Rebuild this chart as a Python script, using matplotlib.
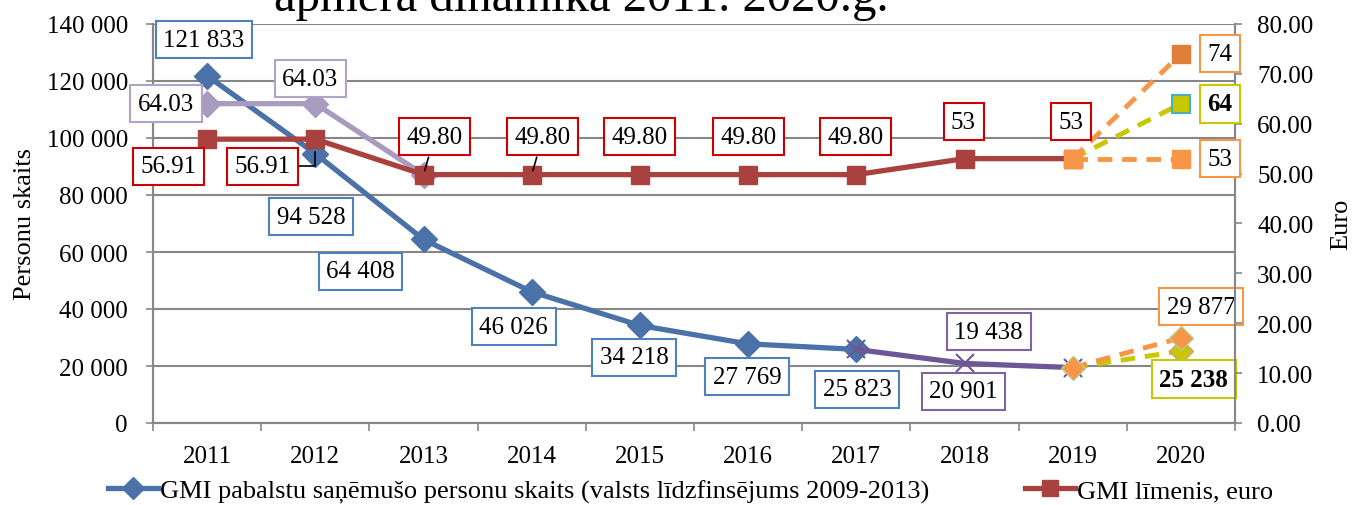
import matplotlib
matplotlib.use('Agg')
import matplotlib.pyplot as plt
from matplotlib.lines import Line2D
from matplotlib.ticker import FuncFormatter

plt.rcParams['font.family'] = ['Liberation Serif', 'DejaVu Serif']

# data
years = ['2011', '2012', '2013', '2014', '2015', '2016', '2017', '2018', '2019', '2020']
persons = [121833, 94528, 64408, 46026, 34218, 27769, 25823]      # 2011-2017
persons_tail = [25823, 20901, 19438]                               # 2017-2019
persons_2020_high = 29877
persons_2020_low = 25238
gmi_old = [64.03, 64.03, 49.80]                                    # 2011-2013
gmi_level = [56.91, 56.91, 49.80, 49.80, 49.80, 49.80, 49.80, 53, 53]  # 2011-2019
gmi_2020 = [74, 64, 53]

BLUE = '#4A72A9'
RED = '#A9413F'
LPURPLE = '#A99BC0'
PURPLE = '#6E5797'
ORANGE = '#F79646'
DORANGE = '#E07F3A'
YELLOW = '#C8C800'

fig = plt.figure(figsize=(13.54, 5.06), dpi=100)
ax = fig.add_axes([153 / 1354, 1 - 424 / 506, 1082 / 1354, 399 / 506])
ax2 = ax.twinx()

x = list(range(len(years)))

# left axis: persons
ax.plot(x[:7], persons, color=BLUE, lw=3.8, marker='D', ms=13, zorder=3)
ax.plot(x[6:9], persons_tail, color=PURPLE, lw=3.8, marker='x', ms=13, mew=1.5, zorder=3)
ax.plot([8, 9], [persons_tail[-1], persons_2020_low], color=YELLOW, lw=3.5, ls=(0, (3, 2)), zorder=3)
ax.plot([9], [persons_2020_low], marker='D', color=YELLOW, mec='#D99694', ms=12, ls='none', zorder=4)
ax.plot([8, 9], [persons_tail[-1], persons_2020_high], color=ORANGE, lw=3.5, ls=(0, (3, 2)), zorder=3)
ax.plot([8, 9], [persons_tail[-1], persons_2020_high], marker='D', color=ORANGE, mec='#B8CC90',
        ms=12, ls='none', zorder=4)

# right axis: euro
ax2.plot(x[:3], gmi_old, color=LPURPLE, lw=3.8, marker='D', ms=13, zorder=3)
ax2.plot(x[:9], gmi_level, color=RED, lw=3.8, marker='s', ms=13, zorder=3)
ax2.plot([8, 9], [gmi_level[-1], gmi_2020[0]], color=ORANGE, lw=3.5, ls=(0, (3, 2)), zorder=3)
ax2.plot([8, 9], [gmi_level[-1], gmi_2020[1]], color=YELLOW, lw=3.5, ls=(0, (3, 2)), zorder=3)
ax2.plot([8, 9], [gmi_level[-1], gmi_2020[2]], color=ORANGE, lw=3.5, ls=(0, (3, 2)), zorder=3)
ax2.plot([9], [gmi_2020[0]], marker='s', color=DORANGE, ms=13, ls='none', zorder=4)
ax2.plot([9], [gmi_2020[1]], marker='s', color=YELLOW, mec='#4BACC6', mew=1.5, ms=13, ls='none', zorder=4)
ax2.plot([8, 9], [gmi_level[-1], gmi_2020[2]], marker='s', color=ORANGE, ms=13, ls='none', zorder=4)

# axes formatting
ax.set_xlim(-0.5, 9.5)
ax.set_ylim(0, 140000)
ax2.set_ylim(0, 80)
ax.set_yticks(range(0, 140001, 20000))
ax2.set_yticks(range(0, 81, 10))
ax.yaxis.set_major_formatter(FuncFormatter(lambda v, p: f'{int(v):,}'.replace(',', ' ')))
ax2.yaxis.set_major_formatter(FuncFormatter(lambda v, p: f'{v:.2f}'))
ax.set_xticks(x)
ax.set_xticklabels(years)
ax.set_xticks([i - 0.5 for i in range(11)], minor=True)
ax.tick_params(axis='x', which='major', length=0, pad=16, labelsize=18)
ax.tick_params(axis='x', which='minor', length=6, width=1.2, color='#878787')
ax.tick_params(axis='y', length=5, width=1.2, color='#878787', labelsize=18, pad=13)
ax2.tick_params(axis='y', length=5, width=1.2, color='#878787', labelsize=18, pad=11)
ax.grid(axis='y', color='#878787', lw=1.5)
ax.set_axisbelow(True)
for a in (ax, ax2):
    a.spines['top'].set_visible(False)
    for s in ('left', 'right', 'bottom'):
        a.spines[s].set_color('#878787')
        a.spines[s].set_linewidth(1.5)
ax.set_ylabel('Personu skaits', fontsize=19, labelpad=8)
ax2.set_ylabel('Euro', fontsize=19, labelpad=12)

fig.text(0.429, 0.978, 'apmēra dinamika 2011. 2020.g.', fontsize=35, ha='center', va='baseline')


def label(a, xi, yv, text, dx, dy, edge, bold=False, arrow=None):
    a.annotate(text, xy=(xi, yv), xytext=(dx, dy), textcoords='offset pixels',
               ha='center', va='center', fontsize=18, fontweight='bold' if bold else 'normal',
               bbox=dict(boxstyle='square,pad=0.3', fc='white', ec=edge, lw=1.5),
               arrowprops=arrow, zorder=6, annotation_clip=False)


# person labels
person_offsets = [(-3, 36), (-4, -63), (-63, -32), (-18, -35), (-6, -32), (-1, -33), (1, -40)]
for i, v in enumerate(persons):
    label(ax, i, v, f'{v:,}'.replace(',', ' '), *person_offsets[i], '#4F81BD')
tail_offsets = [(-1, -28), (-84, 36)]
for i, v in enumerate(persons_tail[1:]):
    label(ax, 7 + i, v, f'{v:,}'.replace(',', ' '), *tail_offsets[i], '#8064A2')
label(ax, 9, persons_2020_high, f'{persons_2020_high:,}'.replace(',', ' '), 20, 31, ORANGE)
label(ax, 9, persons_2020_low, f'{persons_2020_low:,}'.replace(',', ' '), 13, -28, YELLOW, bold=True)

# euro labels
old_offsets = [(-41, 0), (-5, 25)]
for i, v in enumerate(gmi_old[:2]):
    label(ax2, i, v, f'{v:.2f}', *old_offsets[i], '#B3A2C7')

level_offsets = [(-39, -27), (-53, -27), (11, 38), (11, 38), (0, 38), (0, 38), (-1, 38), (-1, 37), (-2, 37)]
elbow = dict(arrowstyle='-', color='black', lw=1.2, shrinkA=0, shrinkB=9,
             connectionstyle='angle,angleA=0,angleB=90,rad=0')
tick = dict(arrowstyle='-', color='black', lw=1.2, shrinkA=1, shrinkB=3)
arrows = [None, elbow, tick, tick, None, None, None, None, None]
for i, v in enumerate(gmi_level):
    txt = f'{v:.2f}' if v != int(v) else f'{int(v)}'
    label(ax2, i, v, txt, *level_offsets[i], '#CC0000', arrow=arrows[i])

right_edges = [ORANGE, YELLOW, ORANGE]
for j, v in enumerate(gmi_2020):
    label(ax2, 9, v, str(v), 39, 0, right_edges[j], bold=(j == 1))

handles = [Line2D([0], [0], color=BLUE, lw=3.8, marker='D', ms=11),
           Line2D([0], [0], color=RED, lw=3.8, marker='s', ms=12)]
fig.legend(handles, ['GMI pabalstu saņēmušo personu skaits (valsts līdzfinsējums 2009-2013)',
                     'GMI līmenis, euro'],
           loc='center', bbox_to_anchor=(0.51, 0.028), ncol=2, frameon=False,
           fontsize=19, columnspacing=3.6, handlelength=1.9, handletextpad=0.1)

fig.savefig('out.png', dpi=100)
